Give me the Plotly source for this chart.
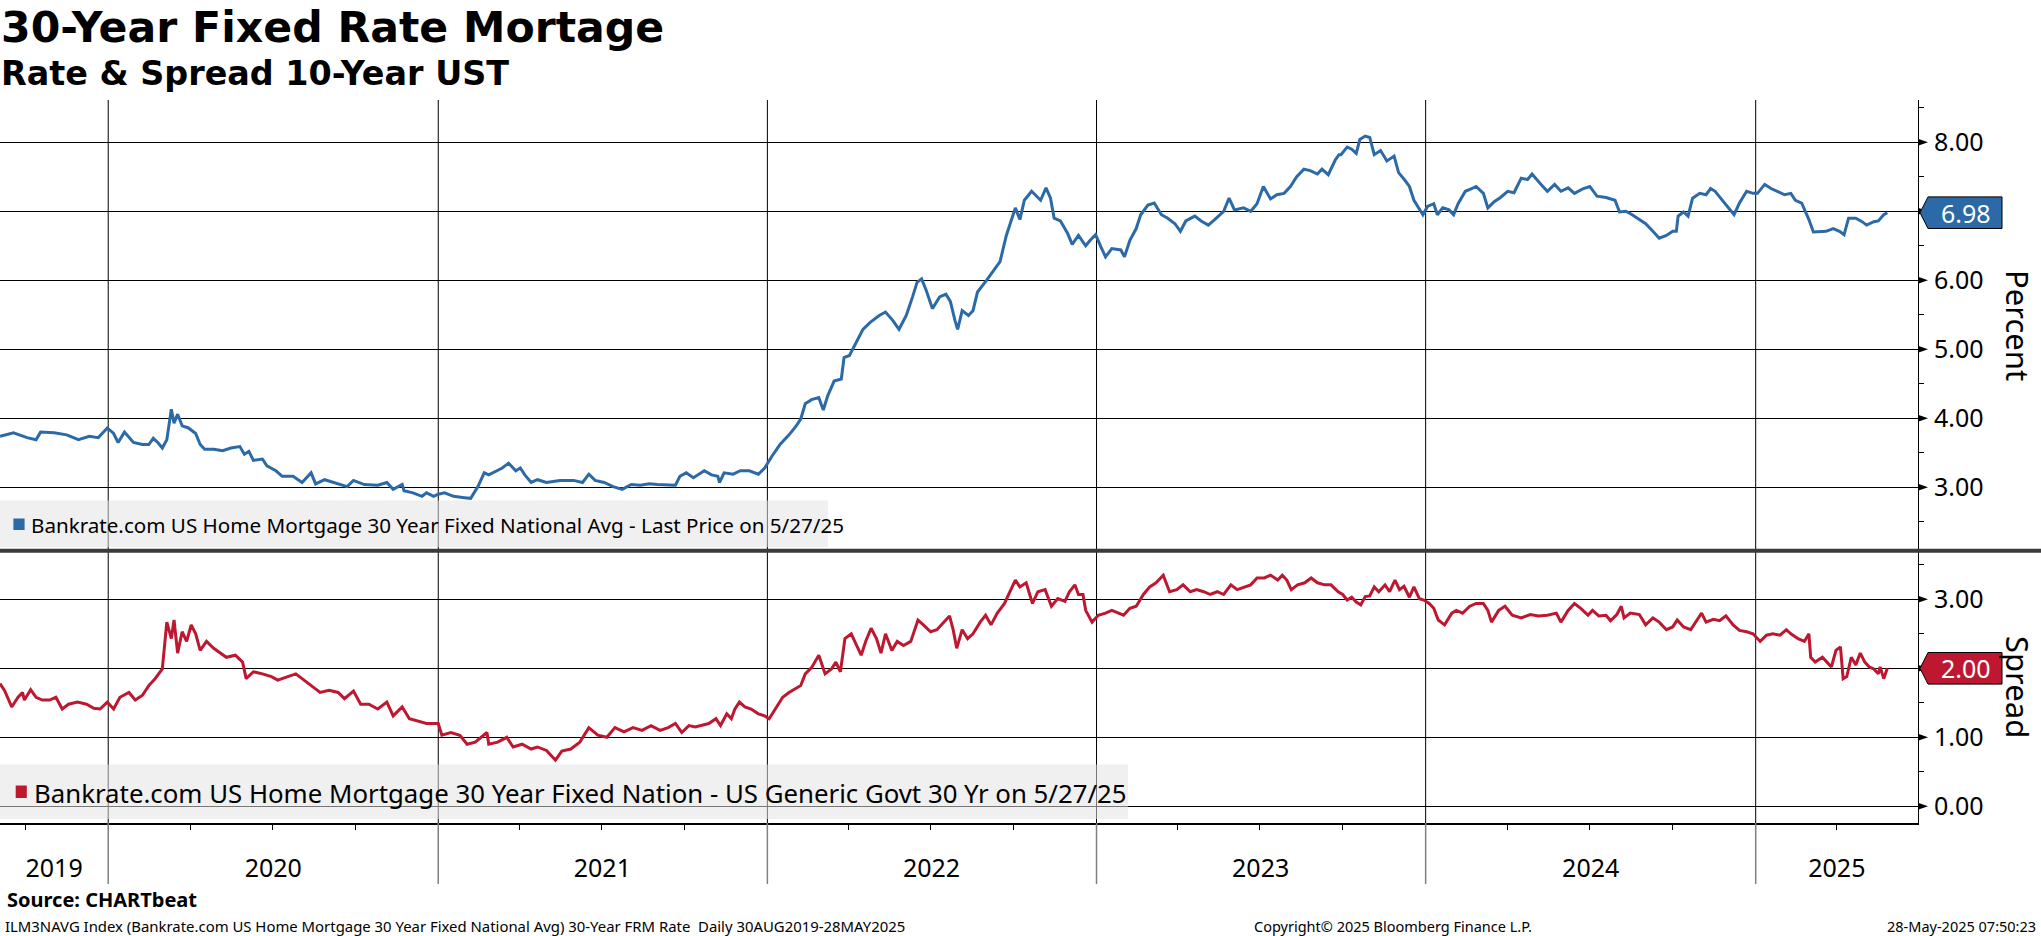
import plotly.graph_objects as go
import pandas as pd

# ---------------- data ----------------
RATE_DATES = [
    "2019-09-03", "2019-09-18", "2019-10-03", "2019-10-13", "2019-10-18", "2019-11-02", "2019-11-16",
    "2019-11-29", "2019-12-11", "2019-12-21", "2019-12-31", "2020-01-07", "2020-01-12", "2020-01-19",
    "2020-01-29", "2020-02-08", "2020-02-15", "2020-02-20", "2020-02-25", "2020-03-01", "2020-03-06",
    "2020-03-11", "2020-03-14", "2020-03-18", "2020-03-23", "2020-03-30", "2020-04-07", "2020-04-12",
    "2020-04-17", "2020-04-27", "2020-05-07", "2020-05-16", "2020-05-26", "2020-05-31", "2020-06-05",
    "2020-06-10", "2020-06-20", "2020-06-25", "2020-07-05", "2020-07-12", "2020-07-24", "2020-08-03",
    "2020-08-13", "2020-08-18", "2020-08-28", "2020-09-12", "2020-09-22", "2020-09-29", "2020-10-11",
    "2020-10-26", "2020-11-05", "2020-11-12", "2020-11-22", "2020-11-24", "2020-12-04", "2020-12-14",
    "2020-12-19", "2020-12-27", "2021-01-01", "2021-01-08", "2021-01-18", "2021-01-30", "2021-02-06",
    "2021-02-14", "2021-02-21", "2021-02-26", "2021-03-06", "2021-03-13", "2021-03-20", "2021-03-28",
    "2021-04-02", "2021-04-07", "2021-04-14", "2021-04-21", "2021-05-01", "2021-05-16", "2021-05-31",
    "2021-06-10", "2021-06-17", "2021-06-24", "2021-07-04", "2021-07-14", "2021-07-24", "2021-08-03",
    "2021-08-13", "2021-08-23", "2021-09-01", "2021-09-11", "2021-09-21", "2021-09-26", "2021-10-03",
    "2021-10-11", "2021-10-23", "2021-10-31", "2021-11-07", "2021-11-09", "2021-11-14", "2021-11-24",
    "2021-12-02", "2021-12-12", "2021-12-22", "2021-12-29", "2022-01-06", "2022-01-15", "2022-01-25",
    "2022-02-02", "2022-02-07", "2022-02-12", "2022-02-19", "2022-02-27", "2022-03-04", "2022-03-09",
    "2022-03-16", "2022-03-24", "2022-03-27", "2022-04-02", "2022-04-10", "2022-04-17", "2022-04-25",
    "2022-05-05", "2022-05-12", "2022-05-20", "2022-05-27", "2022-06-04", "2022-06-11", "2022-06-16",
    "2022-06-21", "2022-06-26", "2022-07-03", "2022-07-11", "2022-07-18", "2022-07-23", "2022-07-28",
    "2022-07-31", "2022-08-05", "2022-08-12", "2022-08-17", "2022-08-22", "2022-09-01", "2022-09-08",
    "2022-09-16", "2022-09-23", "2022-09-28", "2022-10-03", "2022-10-08", "2022-10-13", "2022-10-21",
    "2022-10-26", "2022-10-31", "2022-11-06", "2022-11-11", "2022-11-15", "2022-11-22", "2022-11-30",
    "2022-12-05", "2022-12-12", "2022-12-20", "2022-12-25", "2022-12-31", "2023-01-06", "2023-01-11",
    "2023-01-18", "2023-01-28", "2023-02-01", "2023-02-07", "2023-02-14", "2023-02-19", "2023-02-27",
    "2023-03-06", "2023-03-14", "2023-03-21", "2023-03-29", "2023-04-04", "2023-04-10", "2023-04-20",
    "2023-04-27", "2023-05-05", "2023-05-12", "2023-05-22", "2023-05-28", "2023-06-03", "2023-06-13",
    "2023-06-21", "2023-06-28", "2023-07-05", "2023-07-13", "2023-07-20", "2023-07-28", "2023-08-04",
    "2023-08-11", "2023-08-19", "2023-08-26", "2023-09-03", "2023-09-08", "2023-09-15", "2023-09-23",
    "2023-09-27", "2023-09-29", "2023-10-06", "2023-10-11", "2023-10-16", "2023-10-20", "2023-10-26",
    "2023-10-31", "2023-11-05", "2023-11-12", "2023-11-19", "2023-11-27", "2023-12-02", "2023-12-09",
    "2023-12-14", "2023-12-19", "2023-12-24", "2023-12-29", "2024-01-03", "2024-01-10", "2024-01-14",
    "2024-01-20", "2024-01-27", "2024-02-01", "2024-02-06", "2024-02-14", "2024-02-21", "2024-02-26",
    "2024-03-05", "2024-03-10", "2024-03-17", "2024-03-24", "2024-04-01", "2024-04-08", "2024-04-16",
    "2024-04-23", "2024-04-28", "2024-05-03", "2024-05-08", "2024-05-15", "2024-05-23", "2024-05-30",
    "2024-06-07", "2024-06-14", "2024-06-24", "2024-07-01", "2024-07-09", "2024-07-19", "2024-07-29",
    "2024-08-03", "2024-08-10", "2024-08-17", "2024-08-25", "2024-09-01", "2024-09-09", "2024-09-16",
    "2024-09-24", "2024-10-01", "2024-10-05", "2024-10-07", "2024-10-13", "2024-10-18", "2024-10-23",
    "2024-10-31", "2024-11-07", "2024-11-12", "2024-11-17", "2024-11-24", "2024-12-02", "2024-12-08",
    "2024-12-14", "2024-12-22", "2024-12-29", "2025-01-03", "2025-01-11", "2025-01-18", "2025-01-25",
    "2025-02-02", "2025-02-09", "2025-02-14", "2025-02-21", "2025-03-01", "2025-03-06", "2025-03-13",
    "2025-03-20", "2025-03-28", "2025-04-04", "2025-04-09", "2025-04-14", "2025-04-22", "2025-04-29",
    "2025-05-04", "2025-05-12", "2025-05-17", "2025-05-23", "2025-05-27",
]
RATE_VALUES = [
    3.74, 3.79, 3.72, 3.69, 3.80, 3.79, 3.76,
    3.69, 3.74, 3.72, 3.86, 3.78, 3.65, 3.80,
    3.65, 3.62, 3.62, 3.71, 3.65, 3.57, 3.69,
    4.13, 3.93, 4.06, 3.89, 3.86, 3.78, 3.62,
    3.55, 3.55, 3.53, 3.57, 3.59, 3.48, 3.52,
    3.39, 3.41, 3.31, 3.24, 3.16, 3.16, 3.07,
    3.21, 3.05, 3.11, 3.05, 3.01, 3.10, 3.04,
    3.03, 3.07, 2.97, 3.04, 2.95, 2.92, 2.87,
    2.92, 2.87, 2.90, 2.92, 2.87, 2.85, 2.84,
    3.01, 3.21, 3.18, 3.24, 3.28, 3.35, 3.24,
    3.28, 3.18, 3.07, 3.11, 3.07, 3.10, 3.10,
    3.07, 3.19, 3.10, 3.07, 3.01, 2.97, 3.04,
    3.03, 3.05, 3.04, 3.03, 3.03, 3.16, 3.21,
    3.14, 3.24, 3.18, 3.16, 3.07, 3.21, 3.19,
    3.24, 3.24, 3.19, 3.28, 3.45, 3.62, 3.76,
    3.89, 3.99, 4.21, 4.27, 4.30, 4.12, 4.33,
    4.54, 4.57, 4.88, 4.91, 5.12, 5.29, 5.39,
    5.49, 5.54, 5.42, 5.29, 5.49, 5.76, 5.97,
    6.02, 5.86, 5.59, 5.76, 5.80, 5.69, 5.42,
    5.29, 5.56, 5.49, 5.56, 5.83, 6.00, 6.12,
    6.27, 6.65, 6.85, 7.05, 6.88, 7.16, 7.29,
    7.22, 7.16, 7.34, 7.19, 6.90, 6.86, 6.68,
    6.52, 6.65, 6.50, 6.58, 6.66, 6.48, 6.34,
    6.46, 6.44, 6.34, 6.58, 6.75, 6.95, 7.09,
    7.12, 6.95, 6.90, 6.82, 6.71, 6.86, 6.93,
    6.86, 6.80, 6.88, 7.00, 7.19, 7.02, 7.05,
    7.00, 7.11, 7.36, 7.18, 7.24, 7.26, 7.36,
    7.50, 7.61, 7.59, 7.54, 7.61, 7.53, 7.75,
    7.82, 7.82, 7.93, 7.90, 7.84, 8.04, 8.09,
    8.07, 7.82, 7.88, 7.73, 7.80, 7.56, 7.45,
    7.36, 7.16, 7.05, 6.95, 7.07, 7.11, 6.95,
    7.05, 7.02, 6.95, 7.11, 7.29, 7.33, 7.36,
    7.26, 7.05, 7.14, 7.20, 7.29, 7.27, 7.48,
    7.46, 7.54, 7.46, 7.39, 7.29, 7.39, 7.29,
    7.34, 7.26, 7.33, 7.36, 7.22, 7.20, 7.16,
    6.99, 7.00, 6.95, 6.88, 6.82, 6.71, 6.61,
    6.65, 6.71, 6.71, 6.93, 6.99, 6.93, 7.19,
    7.26, 7.24, 7.33, 7.29, 7.18, 7.05, 6.95,
    7.12, 7.29, 7.26, 7.26, 7.39, 7.33, 7.29,
    7.24, 7.26, 7.16, 7.12, 6.88, 6.70, 6.70,
    6.71, 6.75, 6.71, 6.66, 6.90, 6.90, 6.85,
    6.80, 6.85, 6.86, 6.95, 6.98,
]

SPREAD_DATES = [
    "2019-09-03", "2019-09-08", "2019-09-16", "2019-09-23", "2019-09-28", "2019-09-30", "2019-10-07",
    "2019-10-13", "2019-10-20", "2019-10-28", "2019-11-04", "2019-11-11", "2019-11-18", "2019-11-28",
    "2019-12-08", "2019-12-16", "2019-12-23", "2019-12-31", "2020-01-07", "2020-01-14", "2020-01-24",
    "2020-01-31", "2020-02-08", "2020-02-15", "2020-02-22", "2020-03-01", "2020-03-06", "2020-03-11",
    "2020-03-14", "2020-03-18", "2020-03-23", "2020-03-28", "2020-04-02", "2020-04-07", "2020-04-12",
    "2020-04-19", "2020-04-27", "2020-05-04", "2020-05-11", "2020-05-21", "2020-05-29", "2020-06-02",
    "2020-06-10", "2020-06-20", "2020-06-30", "2020-07-07", "2020-07-17", "2020-07-27", "2020-08-03",
    "2020-08-13", "2020-08-23", "2020-09-02", "2020-09-12", "2020-09-19", "2020-09-29", "2020-10-07",
    "2020-10-16", "2020-10-26", "2020-11-05", "2020-11-12", "2020-11-22", "2020-11-30", "2020-12-09",
    "2020-12-19", "2021-01-01", "2021-01-05", "2021-01-15", "2021-01-25", "2021-02-02", "2021-02-11",
    "2021-02-24", "2021-02-26", "2021-03-08", "2021-03-18", "2021-03-25", "2021-04-04", "2021-04-14",
    "2021-04-21", "2021-05-01", "2021-05-11", "2021-05-18", "2021-05-28", "2021-06-07", "2021-06-17",
    "2021-06-27", "2021-07-07", "2021-07-16", "2021-07-26", "2021-08-05", "2021-08-15", "2021-08-25",
    "2021-09-04", "2021-09-13", "2021-09-21", "2021-09-28", "2021-10-06", "2021-10-13", "2021-10-20",
    "2021-10-28", "2021-11-05", "2021-11-10", "2021-11-17", "2021-11-22", "2021-11-26", "2021-12-01",
    "2021-12-07", "2021-12-14", "2021-12-22", "2021-12-29", "2022-01-03", "2022-01-10", "2022-01-18",
    "2022-01-25", "2022-02-02", "2022-02-07", "2022-02-12", "2022-02-19", "2022-02-27", "2022-03-06",
    "2022-03-13", "2022-03-18", "2022-03-23", "2022-03-28", "2022-04-04", "2022-04-10", "2022-04-15",
    "2022-04-20", "2022-04-26", "2022-05-02", "2022-05-07", "2022-05-12", "2022-05-19", "2022-05-25",
    "2022-06-01", "2022-06-09", "2022-06-17", "2022-06-23", "2022-07-01", "2022-07-08", "2022-07-16",
    "2022-07-22", "2022-07-26", "2022-07-30", "2022-08-05", "2022-08-11", "2022-08-17", "2022-08-25",
    "2022-08-31", "2022-09-06", "2022-09-13", "2022-09-21", "2022-09-27", "2022-10-03", "2022-10-08",
    "2022-10-15", "2022-10-22", "2022-10-28", "2022-11-05", "2022-11-12", "2022-11-19", "2022-11-27",
    "2022-12-02", "2022-12-08", "2022-12-12", "2022-12-17", "2022-12-20", "2022-12-27", "2023-01-03",
    "2023-01-11", "2023-01-18", "2023-01-26", "2023-01-31", "2023-02-07", "2023-02-14", "2023-02-22",
    "2023-03-01", "2023-03-08", "2023-03-16", "2023-03-23", "2023-03-31", "2023-04-07", "2023-04-15",
    "2023-04-22", "2023-04-30", "2023-05-07", "2023-05-15", "2023-05-22", "2023-05-30", "2023-06-06",
    "2023-06-14", "2023-06-21", "2023-06-28", "2023-07-06", "2023-07-13", "2023-07-21", "2023-07-26",
    "2023-07-31", "2023-08-05", "2023-08-12", "2023-08-20", "2023-08-27", "2023-09-03", "2023-09-11",
    "2023-09-18", "2023-09-26", "2023-10-01", "2023-10-06", "2023-10-11", "2023-10-16", "2023-10-21",
    "2023-10-26", "2023-10-31", "2023-11-05", "2023-11-10", "2023-11-17", "2023-11-22", "2023-11-28",
    "2023-12-03", "2023-12-08", "2023-12-14", "2023-12-19", "2023-12-25", "2023-12-30", "2024-01-05",
    "2024-01-10", "2024-01-15", "2024-01-22", "2024-01-30", "2024-02-04", "2024-02-11", "2024-02-19",
    "2024-02-26", "2024-03-05", "2024-03-10", "2024-03-14", "2024-03-22", "2024-03-29", "2024-04-06",
    "2024-04-16", "2024-04-26", "2024-05-05", "2024-05-15", "2024-05-25", "2024-05-30", "2024-06-07",
    "2024-06-14", "2024-06-21", "2024-06-29", "2024-07-04", "2024-07-11", "2024-07-19", "2024-07-24",
    "2024-07-31", "2024-08-05", "2024-08-08", "2024-08-15", "2024-08-25", "2024-09-01", "2024-09-09",
    "2024-09-16", "2024-09-24", "2024-10-01", "2024-10-06", "2024-10-13", "2024-10-21", "2024-10-28",
    "2024-11-02", "2024-11-07", "2024-11-15", "2024-11-22", "2024-11-29", "2024-12-07", "2024-12-14",
    "2024-12-22", "2024-12-29", "2025-01-06", "2025-01-13", "2025-01-20", "2025-01-28", "2025-02-04",
    "2025-02-09", "2025-02-17", "2025-02-24", "2025-03-01", "2025-03-03", "2025-03-08", "2025-03-16",
    "2025-03-21", "2025-03-26", "2025-03-31", "2025-04-05", "2025-04-08", "2025-04-12", "2025-04-17",
    "2025-04-22", "2025-04-27", "2025-05-02", "2025-05-07", "2025-05-12", "2025-05-17", "2025-05-19",
    "2025-05-23", "2025-05-27",
]
SPREAD_VALUES = [
    1.78, 1.68, 1.44, 1.58, 1.65, 1.54, 1.69,
    1.58, 1.54, 1.54, 1.58, 1.41, 1.48, 1.51,
    1.48, 1.42, 1.41, 1.51, 1.41, 1.58, 1.65,
    1.54, 1.61, 1.75, 1.85, 1.99, 2.67, 2.43,
    2.70, 2.22, 2.53, 2.39, 2.63, 2.50, 2.26,
    2.39, 2.29, 2.22, 2.16, 2.19, 2.09, 1.85,
    1.95, 1.92, 1.88, 1.83, 1.88, 1.92, 1.85,
    1.75, 1.65, 1.68, 1.65, 1.56, 1.67, 1.48,
    1.48, 1.41, 1.51, 1.31, 1.44, 1.27, 1.24,
    1.20, 1.20, 1.03, 1.07, 1.03, 0.90, 0.93,
    1.07, 0.90, 0.93, 1.00, 0.86, 0.90, 0.83,
    0.86, 0.81, 0.67, 0.80, 0.83, 0.93, 1.14,
    1.03, 1.00, 1.14, 1.08, 1.14, 1.10, 1.17,
    1.10, 1.14, 1.20, 1.07, 1.17, 1.15, 1.17,
    1.20, 1.27, 1.17, 1.34, 1.27, 1.41, 1.51,
    1.44, 1.41, 1.34, 1.31, 1.27, 1.41, 1.58,
    1.65, 1.71, 1.75, 1.92, 2.01, 2.19, 1.92,
    1.99, 2.09, 1.95, 2.43, 2.50, 2.33, 2.19,
    2.39, 2.58, 2.43, 2.22, 2.50, 2.26, 2.39,
    2.33, 2.39, 2.70, 2.63, 2.53, 2.56, 2.67,
    2.76, 2.56, 2.29, 2.56, 2.43, 2.50, 2.67,
    2.77, 2.63, 2.80, 2.94, 3.11, 3.28, 3.18,
    3.24, 2.94, 3.11, 3.14, 2.90, 3.01, 2.97,
    3.11, 3.21, 3.07, 3.07, 2.84, 2.67, 2.77,
    2.80, 2.84, 2.80, 2.77, 2.87, 2.90, 3.07,
    3.18, 3.24, 3.35, 3.11, 3.14, 3.21, 3.11,
    3.14, 3.11, 3.07, 3.11, 3.07, 3.21, 3.14,
    3.18, 3.21, 3.31, 3.31, 3.35, 3.28, 3.35,
    3.28, 3.14, 3.21, 3.24, 3.31, 3.24, 3.21,
    3.21, 3.11, 3.07, 2.99, 3.03, 2.96, 2.92,
    3.04, 3.05, 3.18, 3.11, 3.21, 3.11, 3.28,
    3.14, 3.19, 3.03, 3.18, 3.01, 2.99, 2.94,
    2.87, 2.70, 2.63, 2.80, 2.84, 2.80, 2.90,
    2.94, 2.94, 2.84, 2.67, 2.84, 2.90, 2.77,
    2.73, 2.78, 2.76, 2.77, 2.80, 2.67, 2.84,
    2.94, 2.87, 2.77, 2.84, 2.76, 2.77, 2.69,
    2.78, 2.90, 2.73, 2.80, 2.78, 2.63, 2.73,
    2.67, 2.56, 2.60, 2.70, 2.60, 2.56, 2.70,
    2.80, 2.67, 2.71, 2.69, 2.76, 2.63, 2.55,
    2.53, 2.50, 2.39, 2.48, 2.50, 2.48, 2.56,
    2.50, 2.43, 2.39, 2.50, 2.16, 2.09, 2.16,
    2.09, 2.02, 2.26, 2.31, 1.85, 1.88, 2.16,
    2.05, 2.22, 2.09, 2.02, 1.99, 1.92, 2.02,
    1.85, 2.00,
]

RATE_TICKS = [3, 4, 5, 6, 7, 8]
RATE_LABELED = [3, 4, 5, 6, 8]          # 7 is hidden by the last-value tag
SPREAD_TICKS = [0, 1, 2, 3]
SPREAD_LABELED = [0, 1, 3]              # 2 is hidden by the last-value tag
YEARS = [2019, 2020, 2021, 2022, 2023, 2024, 2025]
X_START, X_END = "2019-09-03", "2025-06-30"

TITLE = "30-Year Fixed Rate Mortage"
SUBTITLE = "Rate & Spread 10-Year UST"
RATE_NAME = "Bankrate.com US Home Mortgage 30 Year Fixed National Avg - Last Price on 5/27/25"
SPREAD_NAME = "Bankrate.com US Home Mortgage 30 Year Fixed Nation - US Generic Govt 30 Yr on 5/27/25"
SOURCE = "Source: CHARTbeat"
FOOT_LEFT = "ILM3NAVG Index (Bankrate.com US Home Mortgage 30 Year Fixed National Avg) 30-Year FRM Rate  Daily 30AUG2019-28MAY2025"
FOOT_MID = "Copyright\u00a9 2025 Bloomberg Finance L.P."
FOOT_RIGHT = "28-May-2025 07:50:23"

# ---------------- styling / layout ----------------
BLUE = "#2b6aa6"
RED = "#be1730"
FONT = "Noto Sans"
TITLE_FONT = "DejaVu Sans"
W, H = 2041, 936
L, R, T, B = 0, 123, 100, 113
PW, PH = W - L - R, H - T - B


def xp(px):
    return (px - L) / PW


def yp(py):
    return (H - B - py) / PH


fig = go.Figure()
fig.add_trace(go.Scatter(x=RATE_DATES, y=RATE_VALUES, mode="lines", xaxis="x", yaxis="y",
                         line=dict(color=BLUE, width=3), showlegend=False, hoverinfo="skip"))
fig.add_trace(go.Scatter(x=SPREAD_DATES, y=SPREAD_VALUES, mode="lines", xaxis="x", yaxis="y2",
                         line=dict(color=RED, width=3), showlegend=False, hoverinfo="skip"))

xs, xe = pd.Timestamp(X_START), pd.Timestamp(X_END)
year_mids, year_text = [], []
for yr in YEARS:
    s = max(pd.Timestamp(yr, 1, 1), xs)
    e = min(pd.Timestamp(yr + 1, 1, 1), xe)
    year_mids.append((s + (e - s) / 2).strftime("%Y-%m-%d"))
    year_text.append(str(yr))
quarters = [d.strftime("%Y-%m-%d") for d in pd.date_range(xs, xe, freq="QS")]
year_starts = [pd.Timestamp(yr, 1, 1).strftime("%Y-%m-%d") for yr in YEARS if pd.Timestamp(yr, 1, 1) > xs]

tickfont = dict(family=FONT, size=25, color="black")
fig.update_layout(
    width=W, height=H, margin=dict(l=L, r=R, t=T, b=B),
    paper_bgcolor="white", plot_bgcolor="white", showlegend=False,
    xaxis=dict(type="date", range=[X_START, X_END], domain=[0, 1], anchor="y2",
               showline=True, linecolor="black", linewidth=1.5, showgrid=False, zeroline=False,
               tickmode="array", tickvals=year_mids, ticktext=year_text, ticks="",
               tickfont=dict(family=FONT, size=25, color="black"), ticklabelstandoff=22,
               minor=dict(tickmode="array", tickvals=quarters, ticks="outside", ticklen=5,
                          tickcolor="black", tickwidth=1, showgrid=False)),
    yaxis=dict(domain=[yp(549), 1], range=[2.106, 8.613], side="right", anchor="x",
               showline=True, linecolor="black", linewidth=1, zeroline=False,
               showgrid=True, gridcolor="black", gridwidth=1,
               tickmode="array", tickvals=RATE_TICKS,
               ticktext=[f"{v:.2f}" if v in RATE_LABELED else "" for v in RATE_TICKS],
               ticks="", ticklabelstandoff=10, tickfont=tickfont,
               minor=dict(tickmode="array", tickvals=[v + 0.5 for v in range(2, 9)], ticks="outside",
                          ticklen=5, tickcolor="black", tickwidth=1, showgrid=False)),
    yaxis2=dict(domain=[0, yp(552)], range=[-0.242, 3.686], side="right", anchor="x",
                showline=True, linecolor="black", linewidth=1, zeroline=False,
                showgrid=True, gridcolor="black", gridwidth=1,
                tickmode="array", tickvals=SPREAD_TICKS,
                ticktext=[f"{v:.2f}" if v in SPREAD_LABELED else "" for v in SPREAD_TICKS],
                ticks="", ticklabelstandoff=10, tickfont=tickfont,
                minor=dict(tickmode="array", tickvals=[v + 0.5 for v in range(-1, 4)], ticks="outside",
                           ticklen=5, tickcolor="black", tickwidth=1, showgrid=False)),
)

shapes = []
# vertical year gridlines (black in plot) and year separators below the axis (gray)
for d in year_starts:
    shapes.append(dict(type="line", xref="x", yref="paper", x0=d, x1=d, y0=0, y1=1,
                       line=dict(color="black", width=1), layer="below"))
    shapes.append(dict(type="line", xref="x", yref="paper", x0=d, x1=d, y0=yp(884), y1=0,
                       line=dict(color="#808080", width=1.5), layer="above"))
# triangle tick markers
for yref, ticks in (("y", RATE_TICKS), ("y2", SPREAD_TICKS)):
    for v in ticks:
        shapes.append(dict(type="path", xref="paper", yref=yref, xsizemode="pixel", ysizemode="pixel",
                           xanchor=1, yanchor=v, path="M0,-3.5 L10,0 L0,3.5 Z",
                           fillcolor="black", line=dict(width=0), layer="above"))
# panel separator
shapes.append(dict(type="line", xref="paper", yref="paper", x0=0, x1=xp(W), y0=yp(550.7), y1=yp(550.7),
                   line=dict(color="#3a3a3a", width=4), layer="above"))
# legend boxes and swatches
shapes.append(dict(type="rect", xref="paper", yref="paper", x0=0, x1=xp(828), y0=yp(547), y1=yp(500.5),
                   fillcolor="rgba(226,226,226,0.53)", line=dict(width=0), layer="above"))
shapes.append(dict(type="rect", xref="paper", yref="paper", x0=0, x1=xp(1128), y0=yp(819), y1=yp(764.5),
                   fillcolor="rgba(226,226,226,0.53)", line=dict(width=0), layer="above"))
shapes.append(dict(type="rect", xref="paper", yref="paper", x0=xp(13.4), x1=xp(24.6), y0=yp(530), y1=yp(518.5),
                   fillcolor=BLUE, line=dict(width=0), layer="above"))
shapes.append(dict(type="rect", xref="paper", yref="paper", x0=xp(15.7), x1=xp(26.8), y0=yp(798), y1=yp(785.5),
                   fillcolor=RED, line=dict(width=0), layer="above"))
# last value tags
for yref, val, col in (("y", RATE_VALUES[-1], BLUE), ("y2", SPREAD_VALUES[-1], RED)):
    shapes.append(dict(type="path", xref="paper", yref=yref, xsizemode="pixel", ysizemode="pixel",
                       xanchor=1, yanchor=val, path="M2,0 L10,15.8 L84,15.8 L84,-15.8 L10,-15.8 Z",
                       fillcolor=col, line=dict(color="black", width=1), layer="above"))
fig.update_layout(shapes=shapes)

ann = []
for yref, val in (("y", RATE_VALUES[-1]), ("y2", SPREAD_VALUES[-1])):
    ann.append(dict(xref="paper", yref=yref, x=xp(1966), y=val, text=f"{val:.2f}", showarrow=False,
                    xanchor="center", yanchor="middle", font=dict(family=FONT, size=25, color="white")))
ann.append(dict(xref="paper", yref="paper", x=xp(2018), y=yp(326), text="Percent", textangle=90,
                showarrow=False, xanchor="center", yanchor="middle", font=dict(family=FONT, size=31, color="black")))
ann.append(dict(xref="paper", yref="paper", x=xp(2018), y=yp(687), text="Spread", textangle=90,
                showarrow=False, xanchor="center", yanchor="middle", font=dict(family=FONT, size=31, color="black")))
ann.append(dict(xref="paper", yref="paper", x=xp(29), y=yp(525), text=RATE_NAME, showarrow=False,
                xanchor="left", yanchor="middle", font=dict(family=FONT, size=20.6, color="black")))
ann.append(dict(xref="paper", yref="paper", x=xp(32), y=yp(793), text=SPREAD_NAME, showarrow=False,
                xanchor="left", yanchor="middle", font=dict(family=FONT, size=25.8, color="black")))
ann.append(dict(xref="paper", yref="paper", x=xp(0), y=yp(0.5), text=f"<b>{TITLE}</b>", showarrow=False,
                xanchor="left", yanchor="top", borderpad=0,
                font=dict(family=TITLE_FONT, size=42.6, color="black")))
ann.append(dict(xref="paper", yref="paper", x=xp(0), y=yp(53), text=f"<b>{SUBTITLE}</b>", showarrow=False,
                xanchor="left", yanchor="top", borderpad=0,
                font=dict(family=TITLE_FONT, size=33.4, color="black")))
ann.append(dict(xref="paper", yref="paper", x=xp(5), y=yp(899), text=f"<b>{SOURCE}</b>", showarrow=False,
                xanchor="left", yanchor="middle", font=dict(family=FONT, size=20, color="black")))
ann.append(dict(xref="paper", yref="paper", x=xp(3), y=yp(926), text=FOOT_LEFT, showarrow=False,
                xanchor="left", yanchor="middle", font=dict(family=FONT, size=14.9, color="black")))
ann.append(dict(xref="paper", yref="paper", x=xp(1393), y=yp(926), text=FOOT_MID, showarrow=False,
                xanchor="center", yanchor="middle", font=dict(family=FONT, size=14.5, color="black")))
ann.append(dict(xref="paper", yref="paper", x=xp(2038), y=yp(926), text=FOOT_RIGHT, showarrow=False,
                xanchor="right", yanchor="middle", font=dict(family=FONT, size=14.5, color="black")))
fig.update_layout(annotations=ann)

fig.write_html("out.html", config={"displayModeBar": False},
               post_script="document.body.style.margin='0';document.body.style.overflow='hidden';")
